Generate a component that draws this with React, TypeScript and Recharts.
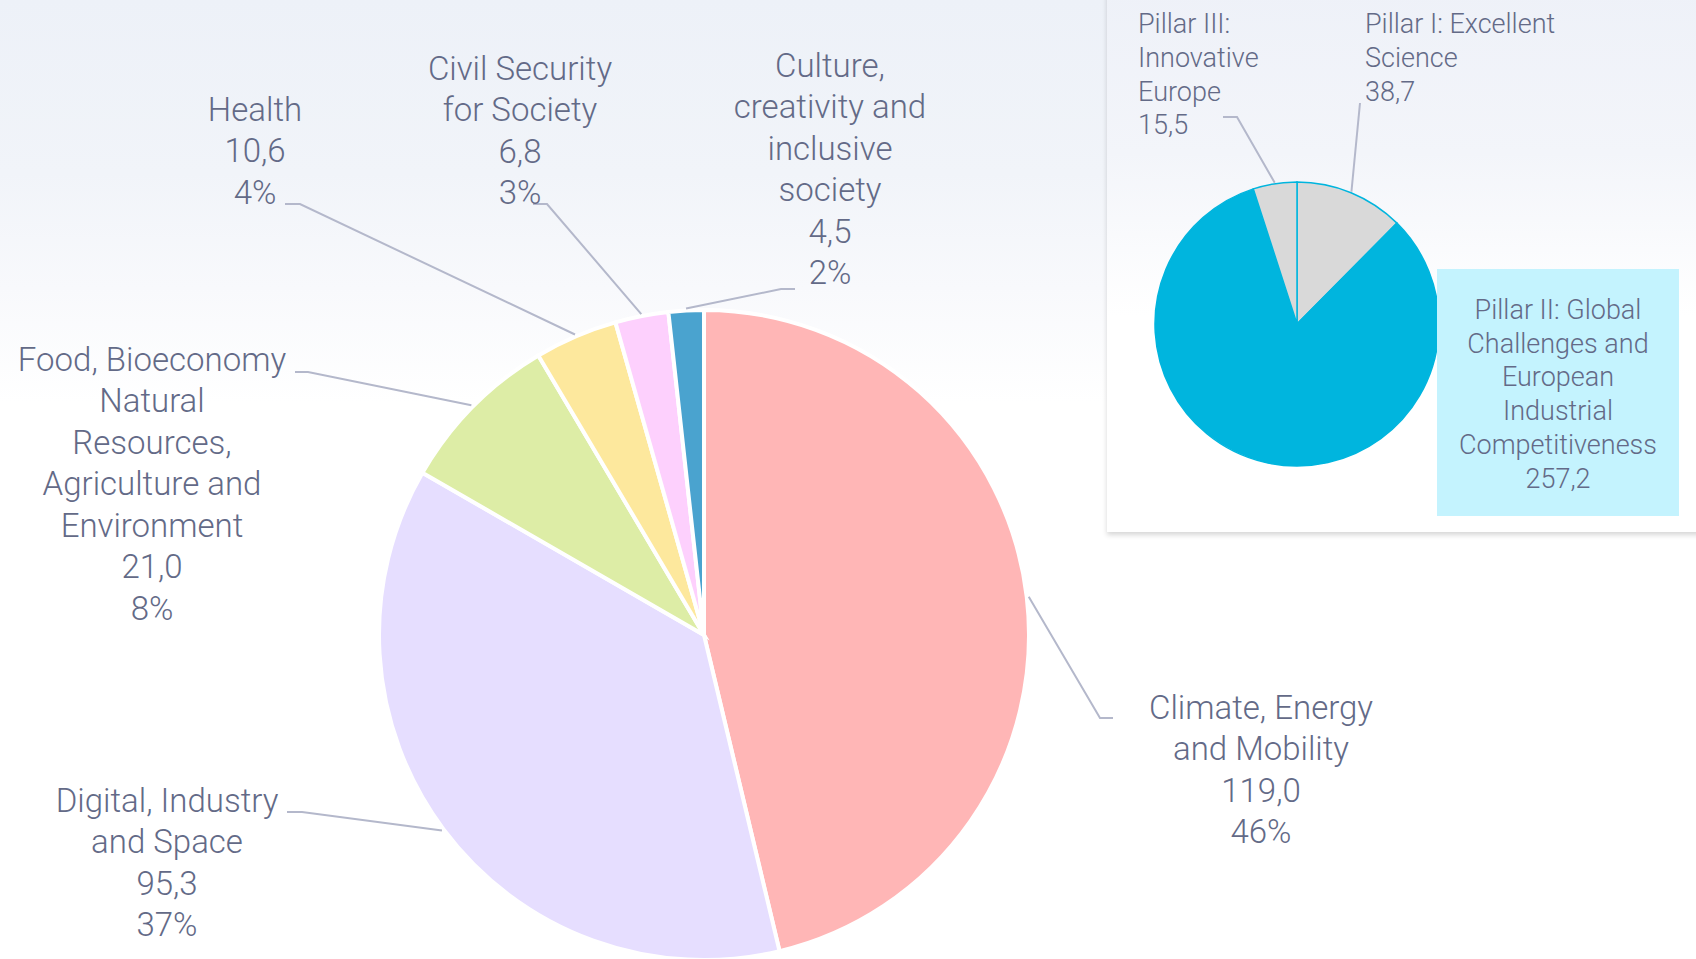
import React from "react"
import { PieChart, Pie, Cell } from "recharts"

// Horizon Europe – Pillar II clusters (EUR bn)
const clusterNames = [
  "Climate, Energy\nand Mobility",
  "Digital, Industry\nand Space",
  "Food, Bioeconomy\nNatural\nResources,\nAgriculture and\nEnvironment",
  "Health",
  "Civil Security\nfor Society",
  "Culture,\ncreativity and\ninclusive\nsociety",
]
const clusterValues = [119.0, 95.3, 21.0, 10.6, 6.8, 4.5]
const clusterColors = ["#FFB6B6", "#E6DEFF", "#DDEDA6", "#FDE89D", "#FDD0FD", "#4AA3CF"]

// inset: the three pillars
const pillarNames = [
  "Pillar I: Excellent\nScience",
  "Pillar II: Global\nChallenges and\nEuropean\nIndustrial\nCompetitiveness",
  "Pillar III:\nInnovative\nEurope",
]
const pillarValues = [38.7, 257.2, 15.5]
const pillarColors = ["#D9D9D9", "#00B5DE", "#D9D9D9"]

const W = 1696
const H = 959
const TEXT = "#636A87"
const LEADER = "#B4B8CB"
const FONT = "Roboto, 'Open Sans', sans-serif"
const WEIGHT = 300

// label placement, offsets from pie centre: text centre / first line, leader end, elbow x
const mainLabelPos = [
  { tx: 557, ty: 72, ex: 409, ey: 83, kx: 396 },
  { tx: -537, ty: 165, ex: -417, ey: 177, kx: -402 },
  { tx: -552, ty: -276, ex: -409, ey: -263, kx: -396 },
  { tx: -449, ty: -526, ex: -419, ey: -431, kx: -404 },
  { tx: -184, ty: -567, ex: -171, ey: -431, kx: -157 },
  { tx: 126, ty: -570, ex: 91, ey: -346, kx: 77 },
]

const insetLabelPos = [
  { tx: 68, ty: -300, ex: 63, ey: -221, kx: 63 },
  { tx: 261, ty: -14, ex: 0, ey: 0, kx: 0 },
  { tx: -159, ty: -300, ex: -74, ey: -207, kx: -60 },
]

const clusterData = clusterNames.map((name, i) => ({ name, value: clusterValues[i] }))
const pillarData = pillarNames.map((name, i) => ({ name, value: pillarValues[i] }))

const fmt = (v: number) => v.toFixed(1).replace(".", ",")
const RAD = Math.PI / 180

function arcPoint(cx: number, cy: number, r: number, angle: number) {
  return { x: cx + r * Math.cos(-angle * RAD), y: cy + r * Math.sin(-angle * RAD) }
}

function renderMainLabel(props: any) {
  const { cx, cy, midAngle, outerRadius, percent, index, value, name } = props
  const pos = mainLabelPos[index]
  const p = arcPoint(cx, cy, outerRadius + 2, midAngle)
  const lines = [...name.split("\n"), fmt(value), `${Math.round(percent * 100)}%`]
  return (
    <g key={`main-label-${index}`}>
      <polyline
        points={`${p.x},${p.y} ${cx + pos.kx},${cy + pos.ey} ${cx + pos.ex},${cy + pos.ey}`}
        fill="none"
        stroke={LEADER}
        strokeWidth={2}
      />
      <text
        x={cx + pos.tx}
        y={cy + pos.ty}
        textAnchor="middle"
        fill={TEXT}
        fontSize={33}
        fontWeight={WEIGHT}
        fontFamily={FONT}
      >
        {lines.map((l, i) => (
          <tspan key={i} x={cx + pos.tx} y={cy + pos.ty + i * 41.5} dominantBaseline="central">
            {l}
          </tspan>
        ))}
      </text>
    </g>
  )
}

function renderInsetLabel(props: any) {
  const { cx, cy, midAngle, outerRadius, index, value, name } = props
  const pos = insetLabelPos[index]
  const lines = [...name.split("\n"), fmt(value)]
  if (index === 1) {
    // the big slice gets a shaded box
    return (
      <g key={`inset-label-${index}`}>
        <rect x={cx + 140} y={cy - 55} width={242} height={247} fill="#C4F3FE" />
        <text textAnchor="middle" fill={TEXT} fontSize={27} fontWeight={WEIGHT} fontFamily={FONT}>
          {lines.map((l, i) => (
            <tspan key={i} x={cx + pos.tx} y={cy + pos.ty + i * 33.7} dominantBaseline="central">
              {l}
            </tspan>
          ))}
        </text>
      </g>
    )
  }
  const p = arcPoint(cx, cy, outerRadius + 1, midAngle)
  return (
    <g key={`inset-label-${index}`}>
      <polyline
        points={`${p.x},${p.y} ${cx + pos.kx},${cy + pos.ey} ${cx + pos.ex},${cy + pos.ey}`}
        fill="none"
        stroke={LEADER}
        strokeWidth={2}
      />
      <text textAnchor="start" fill={TEXT} fontSize={27} fontWeight={WEIGHT} fontFamily={FONT}>
        {lines.map((l, i) => (
          <tspan key={i} x={cx + pos.tx} y={cy + pos.ty + i * 33.8} dominantBaseline="central">
            {l}
          </tspan>
        ))}
      </text>
    </g>
  )
}

export default function App() {
  return (
    <div
      style={{
        position: "absolute",
        left: 0,
        top: 0,
        width: W,
        height: H,
        overflow: "hidden",
        background:
          "linear-gradient(180deg, #EDF1F8 0%, #F1F4F9 18%, #F8F9FC 30%, #FFFFFF 42%)",
        fontFamily: FONT,
      }}
    >
      {/* inset card */}
      <div
        style={{
          position: "absolute",
          left: 1107,
          top: -10,
          width: 600,
          height: 542,
          background: "linear-gradient(180deg, #EEF1F8 0%, #F3F5FA 30%, #FFFFFF 60%)",
          boxShadow: "0 3px 5px rgba(0,0,0,0.16)",
        }}
      />
      <div style={{ position: "absolute", left: 0, top: 0 }}>
        <PieChart width={W} height={H} margin={{ top: 0, right: 0, bottom: 0, left: 0 }}>
          <Pie
            data={clusterData}
            dataKey="value"
            nameKey="name"
            cx={704}
            cy={635}
            outerRadius={325}
            startAngle={90}
            endAngle={-270}
            stroke="#FFFFFF"
            strokeWidth={4}
            label={renderMainLabel}
            labelLine={false}
            isAnimationActive={false}
          >
            {clusterData.map((d, i) => (
              <Cell key={d.name} fill={clusterColors[i]} />
            ))}
          </Pie>
          <Pie
            data={pillarData}
            dataKey="value"
            nameKey="name"
            cx={1297}
            cy={324}
            outerRadius={142}
            startAngle={90}
            endAngle={-270}
            stroke="#00B5DE"
            strokeWidth={1.5}
            label={renderInsetLabel}
            labelLine={false}
            isAnimationActive={false}
          >
            {pillarData.map((d, i) => (
              <Cell key={d.name} fill={pillarColors[i]} />
            ))}
          </Pie>
        </PieChart>
      </div>
    </div>
  )
}
